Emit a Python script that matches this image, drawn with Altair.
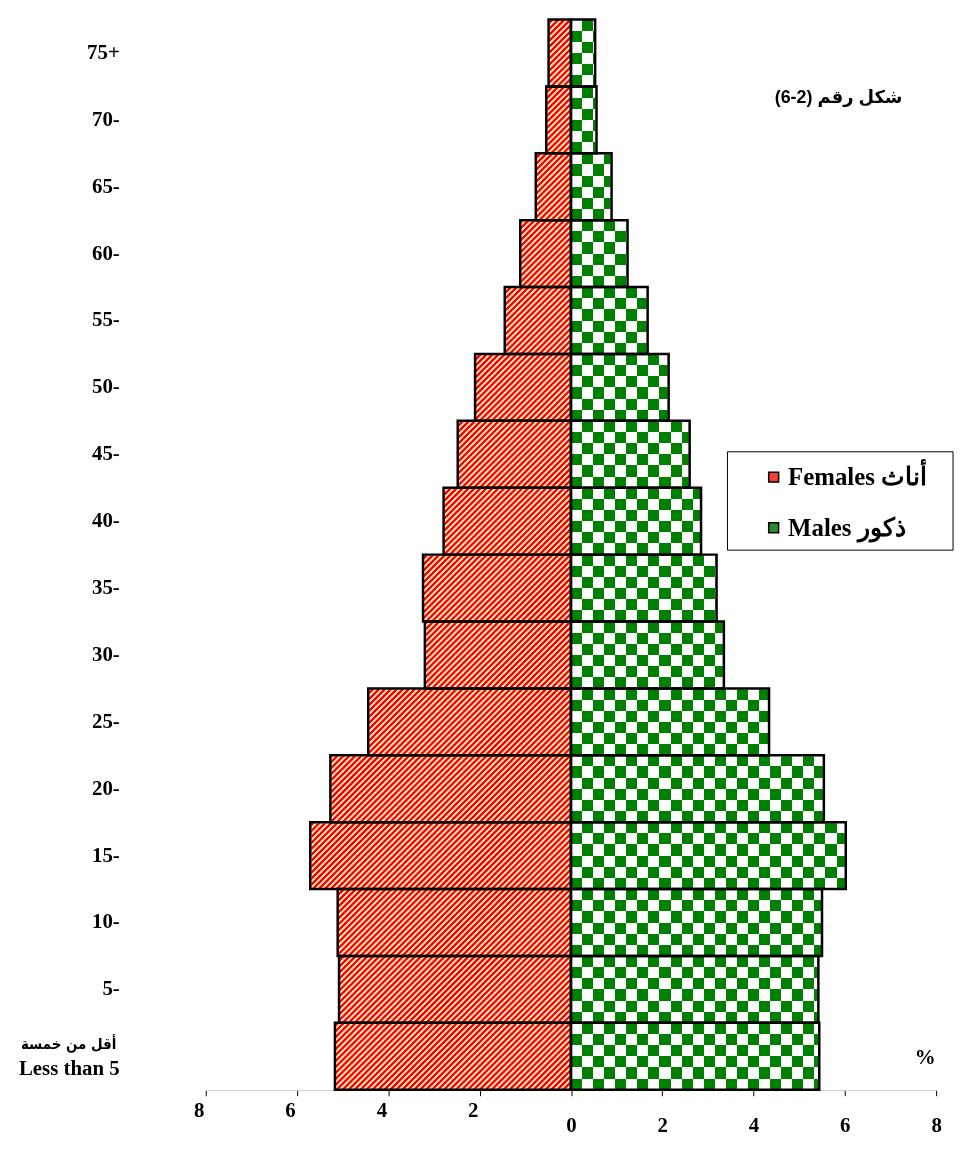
import altair as alt
import pandas as pd

# ---------------- data ----------------
ages = ["Less than 5", "5-", "10-", "15-", "20-", "25-", "30-", "35-",
        "40-", "45-", "50-", "55-", "60-", "65-", "70-", "75+"]
females = [5.17, 5.08, 5.11, 5.71, 5.27, 4.44, 3.20, 3.24,
           2.79, 2.48, 2.10, 1.45, 1.11, 0.77, 0.54, 0.49]
males = [5.44, 5.42, 5.50, 6.02, 5.54, 4.34, 3.35, 3.19,
         2.85, 2.60, 2.14, 1.68, 1.24, 0.89, 0.56, 0.53]
x_ticks = [-8, -6, -4, -2, 0, 2, 4, 6, 8]
sex_labels = ["Females أناث", "Males ذكور"]
first_age_lines = ["أقل من خمسة", "Less than 5"]
fig_label = "(6-2) شكل رقم"
unit_label = "%"

# ---------------- layout / style ----------------
W, H = 735, 1077
n_age = len(ages)
band_h = H / n_age
half_w = W / 2

RED, CREAM = "#ff0000", "#ffeec0"
GREEN = "#008000"
SERIF = "Liberation Serif, DejaVu Serif"
ARABIC = "DejaVu Sans Condensed, DejaVu Sans"

df = pd.DataFrame({
    "age": ages + ages,
    "g": ["F"] * n_age + ["M"] * n_age,
    "sex": [sex_labels[0]] * n_age + [sex_labels[1]] * n_age,
    "value": [-v for v in females] + males,
})


# diagonal "/" stripes inside a half-width band rect (bounding-box units)
def stripe_gradient(w, h, period=6.0):
    s = w * w + h * h
    a = w * (w + h) / s
    b = h * (w + h) / s
    n = (w + h) / period
    pat = [(0.0, RED), (0.35, RED), (0.55, CREAM), (0.8, CREAM)]
    stops = []
    k = 0
    done = False
    while not done:
        for f, c in pat:
            off = (k + f) / n
            if off > 1:
                done = True
                break
            stops.append({"offset": round(off, 5), "color": c})
        k += 1
    return {"gradient": "linear", "x1": 0, "y1": 0, "x2": a, "y2": b, "stops": stops}


def bars_gradient(count, horizontal, first="#000000", second="#ffffff"):
    stops = []
    for j in range(count):
        c = first if j % 2 == 0 else second
        stops.append({"offset": round(j / count, 5), "color": c})
        stops.append({"offset": round((j + 1) / count, 5), "color": c})
    g = {"gradient": "linear", "x1": 0, "y1": 0, "stops": stops}
    if horizontal:
        g.update({"x2": 1, "y2": 0})
    else:
        g.update({"x2": 0, "y2": 1})
    return g


stripes = stripe_gradient(half_w, band_h)
cols = bars_gradient(33, True)
rows = bars_gradient(6, False, first="#ffffff", second="#000000")

x_scale = alt.Scale(domain=[-8, 8], nice=False)
y_scale = alt.Scale(paddingInner=0, paddingOuter=0)

x_axis = alt.Axis(
    values=x_ticks, labelExpr="abs(datum.value)", title=None, grid=False,
    domainColor="black", domainWidth=1, tickColor="black", tickSize=6, tickWidth=1,
    labelFont=SERIF, labelFontWeight="bold", labelFontSize=21, labelColor="black",
    labelPadding={"condition": {"test": "datum.value < 0", "value": 4}, "value": 19},
    labelOffset={"condition": {"test": "datum.value < 0", "value": -7}, "value": 0},
    labelFlush=False, labelOverlap=False,
)
y_axis = alt.Axis(
    title=None, domain=False, ticks=False, grid=False, labelPadding=87,
    labelFont=SERIF, labelFontWeight="bold", labelFontSize=21, labelColor="black",
    labelLimit=300,
    labelOffset={"condition": {"test": "datum.value == '%s'" % ages[0], "value": 13}, "value": 0},
)

base = alt.Chart(df)
y_enc = alt.Y("age:N", sort=ages[::-1], scale=y_scale, axis=y_axis)

f_bg = base.transform_filter("datum.g == 'F'").mark_rect(fill=stripes, strokeWidth=0).encode(
    x=alt.XDatum(-8, scale=x_scale, axis=x_axis), x2=alt.X2Datum(0), y=y_enc)
m_a = base.transform_filter("datum.g == 'M'").mark_rect(fill=cols, strokeWidth=0).encode(
    x=alt.XDatum(0, scale=x_scale, axis=x_axis), x2=alt.X2Datum(8), y=y_enc)
m_b = base.transform_filter("datum.g == 'M'").mark_rect(fill=rows, strokeWidth=0, blend="difference").encode(
    x=alt.XDatum(0, scale=x_scale, axis=x_axis), x2=alt.X2Datum(8), y=y_enc)
m_c = base.transform_filter("datum.g == 'M'").mark_rect(fill=GREEN, strokeWidth=0, blend="screen").encode(
    x=alt.XDatum(0, scale=x_scale, axis=x_axis), x2=alt.X2Datum(8), y=y_enc)

mask = base.transform_calculate(edge="datum.value < 0 ? -8.2 : 8.2").mark_rect(
    fill="white", stroke="white", strokeWidth=2).encode(
    x=alt.X("value:Q", scale=x_scale, axis=x_axis), x2="edge:Q", y=y_enc)

legend_box = alt.Chart(pd.DataFrame({"k": [0]})).mark_rect(
    fill="white", stroke="black", strokeWidth=1).encode(
    x=alt.value(525), x2=alt.value(752), y=alt.value(435), y2=alt.value(534))

outline = base.mark_rect(stroke="black", strokeWidth=2.5, fillOpacity=0).encode(
    x=alt.X("value:Q", scale=x_scale, axis=x_axis),
    x2=alt.X2Datum(0),
    y=y_enc,
    fill=alt.Fill("sex:N", scale=alt.Scale(domain=sex_labels, range=["#f2412f", "#2c8a2c"]),
                  legend=alt.Legend(
                      orient="none", legendX=525, legendY=434, title=None,
                      padding=14, symbolType="square", symbolSize=100,
                      symbolStrokeColor="black", symbolStrokeWidth=1.5,
                      symbolOffset=20, symbolOpacity=1,
                      labelFont=SERIF, labelFontWeight="bold", labelFontSize=25,
                      labelColor="black", rowPadding=25, labelOffset=2)),
)

first_age_ar = base.transform_filter(
    "datum.g == 'F' && datum.age == '%s'" % ages[0]).mark_text(
    align="right", baseline="middle", dy=-12, font=ARABIC, fontSize=15,
    fontWeight="bold", color="black").encode(
    x=alt.value(-90), y=y_enc, text=alt.value(first_age_lines[0]))

fig_text = alt.Chart(pd.DataFrame({"t": [fig_label]})).mark_text(
    align="right", baseline="middle", font="Liberation Sans, DejaVu Sans",
    fontSize=18, fontWeight="bold", color="black").encode(
    x=alt.value(701), y=alt.value(79), text="t:N")
unit_text = alt.Chart(pd.DataFrame({"t": [unit_label]})).mark_text(
    align="center", baseline="middle", font=SERIF,
    fontSize=21, fontWeight="bold", color="black").encode(
    x=alt.value(724), y=alt.value(1045), text="t:N")

chart = alt.layer(f_bg, m_a, m_b, m_c, mask, legend_box, outline,
                  first_age_ar, fig_text, unit_text).properties(
    width=W, height=H,
    autosize=alt.AutoSizeParams(type="none"),
    padding={"left": 199, "top": 8, "right": 22, "bottom": 50},
    background="white",
).configure_view(strokeWidth=0)

chart.save("out.html", embed_options={"renderer": "svg", "actions": False})
